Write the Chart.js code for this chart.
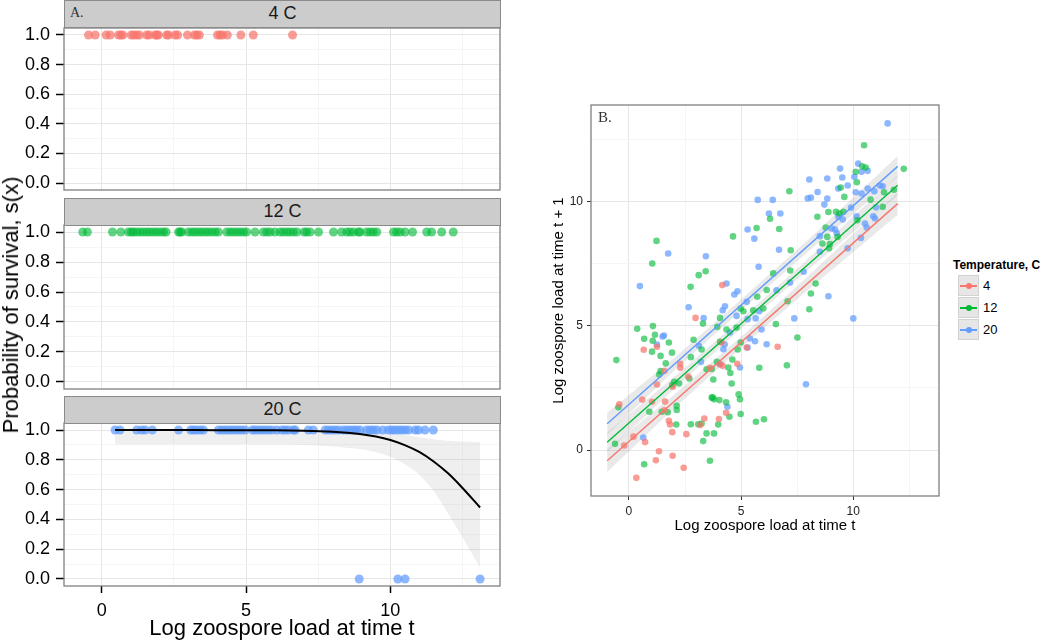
<!DOCTYPE html>
<html><head><meta charset="utf-8">
<script src="https://cdn.jsdelivr.net/npm/chart.js@4.4.1/dist/chart.umd.min.js"></script>
<style>
html,body{margin:0;padding:0;background:#fff;}
body{width:1050px;height:642px;position:relative;overflow:hidden;font-family:'Liberation Sans',Arial,sans-serif;color:#000;}
canvas{position:absolute;}
.strip{position:absolute;box-sizing:border-box;background:#cccccc;border:1px solid #8a8a8a;text-align:center;font-size:18px;line-height:25px;color:#1a1a1a;z-index:2;}
.tag{position:absolute;font-family:'Liberation Serif','Times New Roman',serif;color:#333;z-index:3;white-space:nowrap;}
#ytitle{position:absolute;left:11px;top:305px;transform:translate(-50%,-50%) rotate(-90deg);white-space:nowrap;font-size:22px;line-height:26px;}
.legtitle{position:absolute;font-size:12px;font-weight:bold;line-height:14px;white-space:nowrap;}
.key{position:absolute;left:958px;width:21px;height:21px;box-sizing:border-box;background:#e6e6e6;border:1px solid #d2d2d2;}
.kl{position:absolute;left:1px;right:1px;top:9px;height:1.5px;}
.kd{position:absolute;left:6.5px;top:6.5px;width:6px;height:6px;border-radius:50%;}
.leglab{position:absolute;left:983px;font-size:13px;line-height:21px;}
</style></head><body>
<canvas id="p1" width="520" height="180" style="left:0;top:18px;width:520px;height:180px"></canvas>
<canvas id="p2" width="520" height="180" style="left:0;top:215px;width:520px;height:180px"></canvas>
<canvas id="p3" width="520" height="229" style="left:0;top:413px;width:520px;height:229px"></canvas>
<canvas id="pg" width="410" height="445" style="left:540px;top:95px;width:410px;height:445px"></canvas>

<div class="strip" style="left:64px;top:0;width:437px;height:28px">4 C</div>
<div class="strip" style="left:64px;top:198px;width:437px;height:28px">12 C</div>
<div class="strip" style="left:64px;top:396px;width:437px;height:28px">20 C</div>
<div class="tag" style="left:70px;top:6px;font-size:14px;line-height:14px">A.</div>
<div class="tag" style="left:598px;top:110px;font-size:15px;line-height:15px">B.</div>
<div id="ytitle">Probability of survival, s(x)</div>

<div class="legtitle" style="left:953px;top:258px">Temperature, C</div>
<div class="key" style="top:275px"><div class="kl" style="background:#F8766D"></div><div class="kd" style="background:#F8766D"></div></div>
<div class="key" style="top:297px"><div class="kl" style="background:#00BA38"></div><div class="kd" style="background:#00BA38"></div></div>
<div class="key" style="top:319px"><div class="kl" style="background:#619CFF"></div><div class="kd" style="background:#619CFF"></div></div>
<div class="leglab" style="top:275px">4</div>
<div class="leglab" style="top:297px">12</div>
<div class="leglab" style="top:319px">20</div>

<script>
// ---------- DATA ----------
const temperatures = ['4', '12', '20'];
const survivalTicksX = [0, 2.5, 5, 7.5, 10, 12.5];
const survivalMajorX = [0, 5, 10];
const survivalTicksY = [0, 0.1, 0.2, 0.3, 0.4, 0.5, 0.6, 0.7, 0.8, 0.9, 1.0];
const growthTicks = [0, 2.5, 5, 7.5, 10, 12.5];
const growthMajor = [0, 5, 10];

// survival (x = log load at t, y = survived 0/1)
const surv4 = [[-0.46,1],[-0.23,1],[0.15,1],[0.29,1],[0.58,1],[0.66,1],[0.73,1],[1.02,1],[1.10,1],[1.21,1],[1.30,1],[1.56,1],[1.64,1],[1.85,1],[1.91,1],[1.96,1],[2.25,1],[2.31,1],[2.54,1],[2.63,1],[2.97,1],[3.21,1],[3.29,1],[3.38,1],[4.01,1],[4.10,1],[4.18,1],[4.35,1],[4.82,1],[5.25,1],[6.61,1]];
const surv12 = [[-0.66,1],[-0.50,1],[0.37,1],[0.66,1],[0.92,1],[1.02,1],[1.10,1],[1.21,1],[1.33,1],[1.44,1],[1.56,1],[1.67,1],[1.79,1],[1.90,1],[2.02,1],[2.14,1],[2.23,1],[2.66,1],[2.71,1],[2.77,1],[3.00,1],[3.12,1],[3.23,1],[3.35,1],[3.46,1],[3.58,1],[3.69,1],[3.81,1],[3.93,1],[4.04,1],[4.33,1],[4.45,1],[4.56,1],[4.68,1],[4.79,1],[4.91,1],[5.02,1],[5.31,1],[5.60,1],[5.72,1],[5.83,1],[6.00,1],[6.18,1],[6.29,1],[6.41,1],[6.52,1],[6.64,1],[6.76,1],[7.01,1],[7.10,1],[7.22,1],[7.51,1],[8.03,1],[8.31,1],[8.49,1],[8.60,1],[8.72,1],[8.89,1],[8.95,1],[9.18,1],[9.30,1],[9.41,1],[9.53,1],[10.11,1],[10.22,1],[10.34,1],[10.51,1],[10.77,1],[11.26,1],[11.43,1],[11.78,1],[12.18,1]];
const surv20 = [[0.46,1],[0.63,1],[1.21,1],[1.38,1],[1.50,1],[1.75,1],[2.66,1],[3.08,1],[3.18,1],[3.29,1],[3.41,1],[3.52,1],[4.04,1],[4.16,1],[4.27,1],[4.39,1],[4.50,1],[4.62,1],[4.73,1],[4.85,1],[4.97,1],[5.22,1],[5.31,1],[5.43,1],[5.54,1],[5.66,1],[5.77,1],[5.89,1],[6.06,1],[6.24,1],[6.35,1],[6.47,1],[6.64,1],[6.70,1],[7.16,1],[7.33,1],[7.74,1],[7.85,1],[7.97,1],[8.08,1],[8.20,1],[8.37,1],[8.49,1],[8.60,1],[8.72,1],[8.83,1],[8.95,1],[9.18,1],[9.30,1],[9.41,1],[9.53,1],[9.74,1],[9.93,1],[10.05,1],[10.16,1],[10.28,1],[10.39,1],[10.51,1],[10.63,1],[10.86,1],[10.97,1],[11.20,1],[11.49,1],[8.92,0],[10.26,0],[10.51,0],[13.11,0]];
// fitted survival curve at 20 C
const fit20 = [[0.46,1.0],[2,1.0],[4,0.999],[6,0.998],[7,0.995],[8,0.988],[8.5,0.981],[9,0.971],[9.5,0.956],[10,0.933],[10.5,0.899],[11,0.853],[11.5,0.789],[12,0.709],[12.5,0.611],[13.11,0.48]];
const fit20Lower = [[0.46,0.904],[2,0.905],[4,0.905],[6,0.903],[7,0.90],[8,0.89],[9,0.87],[9.5,0.85],[10,0.82],[10.5,0.77],[11,0.70],[11.5,0.59],[12,0.44],[12.5,0.28],[13.11,0.075]];
const fit20Upper = [[0.46,1.0],[2,1.0],[4,1.0],[6,1.0],[7,1.0],[8,1.0],[8.5,0.998],[9,0.995],[9.5,0.99],[10,0.98],[10.5,0.967],[11,0.952],[11.5,0.938],[12,0.928],[12.5,0.922],[13.11,0.918]];

// growth (x = log load at t, y = log load at t+1)
const growth4 = [[-0.43,1.84],[-0.21,0.18],[0.20,0.54],[0.33,-1.12],[0.59,2.03],[0.66,4.04],[0.72,0.32],[1.03,1.94],[1.20,-0.41],[1.25,4.16],[1.25,2.64],[1.34,-0.05],[1.58,3.18],[1.58,1.60],[1.61,1.95],[1.78,1.18],[1.83,1.03],[1.93,0.72],[1.95,2.55],[1.95,-0.23],[2.29,3.47],[2.29,3.31],[2.44,-0.71],[2.56,0.64],[2.64,2.96],[2.97,5.32],[3.17,1.01],[3.36,1.27],[3.61,3.31],[4.01,1.25],[4.06,3.45],[4.13,4.33],[4.16,6.64],[4.18,3.39],[4.33,1.50],[4.83,3.47],[5.25,4.13],[6.63,4.16]];
const growth12 = [[-0.62,0.25],[-0.56,3.62],[-0.47,1.72],[0.37,4.88],[0.68,4.48],[0.68,-0.57],[0.91,1.54],[1.03,3.96],[1.04,7.51],[1.06,4.40],[1.07,4.99],[1.16,4.64],[1.23,8.42],[1.35,3.04],[1.41,3.79],[1.41,3.18],[1.46,1.54],[1.64,3.49],[1.73,1.52],[1.78,4.33],[1.92,3.92],[1.93,2.62],[2.02,2.75],[2.11,1.03],[2.13,1.78],[2.13,1.61],[2.24,2.68],[2.69,2.88],[2.75,6.57],[2.76,3.74],[2.76,1.04],[2.88,4.44],[3.09,1.04],[3.11,7.04],[3.24,4.05],[3.24,1.07],[3.30,5.09],[3.31,0.36],[3.42,7.20],[3.46,3.25],[3.46,0.67],[3.61,-0.43],[3.69,3.26],[3.69,2.11],[3.73,2.12],[3.76,2.84],[3.79,0.67],[3.80,2.04],[3.92,3.55],[3.94,4.96],[3.98,1.03],[4.03,2.01],[4.06,5.32],[4.06,4.36],[4.33,1.92],[4.35,4.85],[4.43,3.32],[4.48,1.34],[4.52,3.10],[4.58,2.68],[4.61,3.64],[4.64,8.60],[4.80,4.93],[4.85,4.05],[4.89,2.24],[4.95,2.04],[4.98,5.70],[4.98,4.33],[4.98,1.45],[5.10,5.59],[5.54,5.63],[5.66,1.14],[5.69,8.94],[5.72,6.17],[5.81,3.31],[5.99,5.70],[6.02,1.24],[6.14,6.44],[6.29,9.31],[6.43,7.11],[6.55,5.07],[6.70,8.90],[7.04,3.41],[7.07,5.99],[7.15,10.42],[7.19,7.23],[7.21,8.04],[7.51,4.53],[8.04,5.67],[8.11,6.30],[8.32,6.70],[8.40,9.39],[8.62,8.31],[8.77,8.96],[8.84,8.58],[8.89,9.58],[8.92,8.12],[8.96,8.29],[9.23,9.59],[9.30,8.58],[9.38,9.52],[9.44,10.57],[9.56,9.59],[9.60,10.19],[10.11,11.20],[10.16,10.78],[10.18,9.25],[10.40,11.42],[10.48,12.27],[10.55,11.37],[10.77,10.08],[11.31,9.79],[11.37,10.38],[11.81,10.48],[12.25,11.32]];
const growth20 = [[0.49,6.60],[0.64,0.50],[1.25,4.25],[1.50,4.57],[1.56,4.61],[1.75,7.91],[2.66,5.75],[3.12,4.20],[3.21,3.55],[3.33,5.31],[3.43,7.80],[4.06,3.46],[4.18,5.63],[4.21,4.06],[4.27,4.25],[4.28,5.79],[4.35,6.70],[4.39,1.74],[4.50,4.73],[4.70,6.26],[4.80,5.40],[4.84,6.39],[4.95,3.32],[5.25,5.97],[5.29,8.88],[5.29,5.27],[5.29,4.13],[5.39,4.49],[5.59,8.51],[5.62,4.38],[5.65,5.30],[5.74,10.07],[5.78,7.38],[5.81,5.59],[5.91,4.85],[6.14,4.26],[6.24,9.52],[6.41,10.07],[6.58,6.43],[6.69,8.06],[6.75,9.52],[7.18,6.74],[7.37,5.30],[7.79,7.18],[7.89,2.65],[7.97,10.13],[8.04,10.89],[8.11,10.16],[8.41,10.39],[8.51,8.61],[8.51,7.98],[8.71,9.88],[8.84,10.12],[8.84,10.93],[8.89,6.19],[9.04,8.92],[9.19,8.88],[9.26,8.74],[9.33,10.53],[9.33,9.39],[9.41,11.33],[9.51,10.97],[9.53,9.28],[9.75,10.65],[9.75,8.12],[9.90,9.76],[10.00,5.30],[10.05,11.00],[10.11,10.38],[10.15,9.41],[10.22,11.53],[10.34,8.54],[10.37,11.20],[10.37,10.33],[10.52,9.12],[10.60,8.96],[10.64,11.24],[10.64,10.53],[10.89,9.41],[10.94,10.42],[10.97,9.32],[11.01,9.77],[11.19,10.65],[11.31,10.62],[11.53,13.15]];
// fitted regression lines and their confidence bands
const line4 = [[-0.97,-0.43],[11.98,9.92]];
const line12 = [[-0.97,0.31],[11.98,10.66]];
const line20 = [[-0.97,1.06],[11.98,11.42]];
const band4Lower = [[-0.97,-0.88],[2,1.66],[5,4.12],[8,6.46],[11.98,9.47]];
const band4Upper = [[-0.97,0.02],[2,2.22],[5,4.56],[8,7.02],[11.98,10.37]];
const band12Lower = [[-0.97,-0.09],[2,2.45],[5,4.89],[8,7.27],[11.98,10.26]];
const band12Upper = [[-0.97,0.71],[2,2.93],[5,5.29],[8,7.71],[11.98,11.06]];
const band20Lower = [[-0.97,0.62],[2,3.18],[5,5.62],[8,8.00],[11.98,11.00]];
const band20Upper = [[-0.97,1.50],[2,3.70],[5,6.06],[8,8.48],[11.98,11.84]];

// ---------- STYLE ----------
const COLORS = { '4': '#F8766D', '12': '#00BA38', '20': '#619CFF' };
const FADED = { '4': 'rgba(248,118,109,0.72)', '12': 'rgba(0,186,56,0.62)', '20': 'rgba(97,156,255,0.72)' };
Chart.defaults.font.family = "'Liberation Sans', Arial, sans-serif";
Chart.defaults.color = '#000';

const pts = arr => arr.map(([x, y]) => ({ x, y }));

const framePlugin = {
  id: 'frame',
  afterDatasetsDraw(chart) {
    const { ctx, chartArea: { left, top, right, bottom } } = chart;
    ctx.save();
    ctx.strokeStyle = '#808080';
    ctx.lineWidth = 1.3;
    ctx.strokeRect(left, top, right - left, bottom - top);
    ctx.restore();
  }
};

function gridOpts(isMajor, tickCol, tickLen, tickW, drawTicks) {
  return {
    drawTicks: drawTicks,
    tickLength: tickLen,
    tickWidth: tickW,
    color: c => (c.tick && isMajor(c.tick.value)) ? '#e6e6e6' : '#f3f3f3',
    lineWidth: c => (c.tick && isMajor(c.tick.value)) ? 1 : 0.8,
    tickColor: c => (c.tick && isMajor(c.tick.value)) ? tickCol : 'rgba(0,0,0,0)'
  };
}
const isMajorSX = v => survivalMajorX.includes(v);
const isMajorSY = v => Math.round(v * 10) % 2 === 0;
const isMajorG = v => growthMajor.includes(v);

function survivalChart(id, datasets, showX, padBottom) {
  return new Chart(document.getElementById(id), {
    type: 'scatter',
    data: { datasets },
    options: {
      responsive: false, animation: false, events: [],
      layout: { padding: { top: 10, right: 20, bottom: padBottom, left: 0 } },
      plugins: { legend: { display: false }, tooltip: { enabled: false } },
      scales: {
        x: {
          type: 'linear', min: -1.31, max: 13.8,
          border: { display: false },
          afterBuildTicks: s => { s.ticks = survivalTicksX.map(v => ({ value: v })); },
          afterFit: s => { s.height = showX ? 56 : 0; s.paddingLeft = 0; s.paddingRight = 0; },
          grid: gridOpts(isMajorSX, '#000', 7, 1.5, showX),
          ticks: { display: showX, autoSkip: false, maxRotation: 0, padding: 7, font: { size: 18 }, color: '#000',
                   callback: v => isMajorSX(v) ? String(v) : '' },
          title: { display: showX, text: 'Log zoospore load at time t', font: { size: 22 }, color: '#000', padding: { top: 0, bottom: 0 } }
        },
        y: {
          type: 'linear', min: -0.047, max: 1.047,
          border: { display: false },
          afterBuildTicks: s => { s.ticks = survivalTicksY.map(v => ({ value: v })); },
          afterFit: s => { s.width = 64; s.paddingTop = 0; s.paddingBottom = 0; },
          grid: gridOpts(isMajorSY, '#000', 8, 1.5, true),
          ticks: { autoSkip: false, padding: 6, font: { size: 18 }, color: '#000',
                   callback: v => isMajorSY(v) ? v.toFixed(1) : '' }
        }
      }
    },
    plugins: [framePlugin]
  });
}

const survPoint = (arr, t) => ({
  data: pts(arr), pointRadius: 4.5, pointBorderWidth: 0,
  pointBackgroundColor: FADED[t], backgroundColor: FADED[t], order: 1
});

survivalChart('p1', [survPoint(surv4, '4')], false, 8);
survivalChart('p2', [survPoint(surv12, '12')], false, 6);
survivalChart('p3', [
  { data: pts(fit20Lower), showLine: true, pointRadius: 0, borderWidth: 0, borderColor: 'rgba(0,0,0,0)', fill: false, tension: 0.3, order: 3 },
  { data: pts(fit20Upper), showLine: true, pointRadius: 0, borderWidth: 0, borderColor: 'rgba(0,0,0,0)', fill: '-1', backgroundColor: 'rgba(153,153,153,0.16)', tension: 0.3, order: 3 },
  survPoint(surv20, '20'),
  { data: pts(fit20), showLine: true, pointRadius: 0, borderColor: '#000', borderWidth: 2, cubicInterpolationMode: 'monotone', fill: false, order: 0 }
], true, 0);

// growth panel
const bandPair = (lo, hi) => [
  { data: pts(lo), showLine: true, pointRadius: 0, borderWidth: 0, borderColor: 'rgba(0,0,0,0)', fill: false, order: 3 },
  { data: pts(hi), showLine: true, pointRadius: 0, borderWidth: 0, borderColor: 'rgba(0,0,0,0)', fill: '-1', backgroundColor: 'rgba(153,153,153,0.22)', order: 3 }
];
const growthPoint = (arr, t) => ({
  data: pts(arr), pointRadius: 3.3, pointBorderWidth: 0,
  pointBackgroundColor: FADED[t], backgroundColor: FADED[t], order: 2
});
const growthLine = (arr, t) => ({
  data: pts(arr), showLine: true, pointRadius: 0, borderColor: COLORS[t], borderWidth: 1.4, fill: false, order: 1
});

new Chart(document.getElementById('pg'), {
  type: 'scatter',
  data: {
    datasets: [
      ...bandPair(band4Lower, band4Upper),
      ...bandPair(band12Lower, band12Upper),
      ...bandPair(band20Lower, band20Upper),
      growthPoint(growth4, '4'),
      growthPoint(growth12, '12'),
      growthPoint(growth20, '20'),
      growthLine(line4, '4'),
      growthLine(line12, '12'),
      growthLine(line20, '20')
    ]
  },
  options: {
    responsive: false, animation: false, events: [],
    layout: { padding: { top: 10, right: 11, bottom: 0, left: 0 } },
    plugins: { legend: { display: false }, tooltip: { enabled: false } },
    scales: {
      x: {
        type: 'linear', min: -1.69, max: 13.82,
        border: { display: false },
        afterBuildTicks: s => { s.ticks = growthTicks.map(v => ({ value: v })); },
        afterFit: s => { s.height = 44; s.paddingLeft = 0; s.paddingRight = 0; },
        grid: gridOpts(isMajorG, '#333', 4, 1, true),
        ticks: { autoSkip: false, maxRotation: 0, padding: 4, font: { size: 12 }, color: '#222',
                 callback: v => isMajorG(v) ? String(v) : '' },
        title: { display: true, text: 'Log zoospore load at time t', font: { size: 15 }, color: '#000', padding: { top: 0, bottom: 5 } }
      },
      y: {
        type: 'linear', min: -1.85, max: 13.89,
        border: { display: false },
        afterBuildTicks: s => { s.ticks = growthTicks.map(v => ({ value: v })); },
        afterFit: s => { s.width = 51; s.paddingTop = 0; s.paddingBottom = 0; },
        grid: gridOpts(isMajorG, '#333', 4, 1, true),
        ticks: { autoSkip: false, padding: 4, font: { size: 12 }, color: '#222',
                 callback: v => isMajorG(v) ? String(v) : '' },
        title: { display: true, text: 'Log zoospore load at time t + 1', font: { size: 15 }, color: '#000', padding: { top: 10, bottom: 0 } }
      }
    }
  },
  plugins: [framePlugin]
});
</script>
</body></html>
